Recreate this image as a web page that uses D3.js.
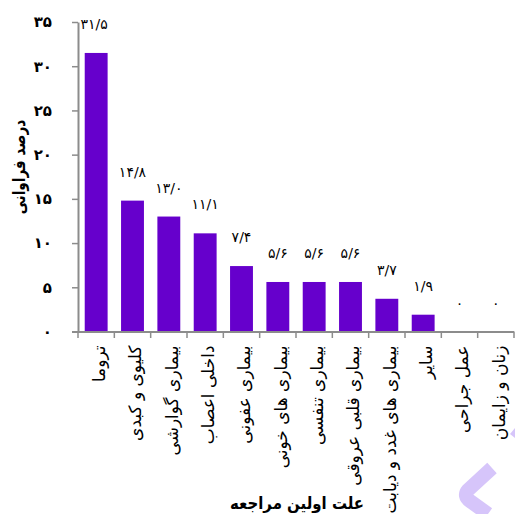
<!DOCTYPE html>
<html>
<head>
<meta charset="utf-8">
<script src="https://cdn.jsdelivr.net/npm/d3@7"></script>
<style>
html,body{margin:0;padding:0;background:#fff;}
svg{display:block;}
text{font-family:"DejaVu Sans","Noto Sans",sans-serif;}
</style>
</head>
<body>
<svg id="chart" width="515" height="514"></svg>
<script>
const categories = ["تروما","کلیوی و کبدی","بیماری گوارشی","داخلی اعصاب","بیماری عفونی","بیماری های خونی","بیماری تنفسی","بیماری قلبی عروقی","بیماری های غدد و دیابت","سایر","عمل جراحی","زنان و زایمان"];
const values = [31.5,14.8,13.0,11.1,7.4,5.6,5.6,5.6,3.7,1.9,0,0];
const valueLabels = ["۳۱/۵","۱۴/۸","۱۳/۰","۱۱/۱","۷/۴","۵/۶","۵/۶","۵/۶","۳/۷","۱/۹","۰","۰"];
const yTicks = [0,5,10,15,20,25,30,35];
const yTickLabels = ["۰","۵","۱۰","۱۵","۲۰","۲۵","۳۰","۳۵"];
const yTitle = "درصد فراوانی";
const xTitle = "علت اولین مراجعه";

const svg = d3.select("#chart");
const mLeft = 78, mRight = 514, mTop = 22, mBottom = 331.5;

const x = d3.scaleBand().domain(categories).range([mLeft, mRight]).paddingInner(0.37).paddingOuter(0.185);
const y = d3.scaleLinear().domain([0,35]).range([mBottom, mTop]);

const axisColor = "#8c8c8c";

// bars
svg.append("g").selectAll("rect").data(values).join("rect")
  .attr("x",(d,i)=>x(categories[i]))
  .attr("width",x.bandwidth())
  .attr("y",d=>y(d))
  .attr("height",d=>mBottom-y(d))
  .attr("fill","#6600cc");

// value labels
svg.append("g").selectAll("text").data(values).join("text")
  .attr("x",(d,i)=>x(categories[i])+x.bandwidth()/2 - (i===0?2:0))
  .attr("y",d=>y(d)-24)
  .attr("text-anchor","middle")
  .attr("font-size",14)
  .attr("fill","#000")
  .text((d,i)=>valueLabels[i]);

// y axis
const yAxis = svg.append("g").attr("transform",`translate(${mLeft},0)`)
  .call(d3.axisLeft(y).tickValues(yTicks).tickSize(6).tickSizeOuter(0).tickPadding(20).tickFormat((d,i)=>yTickLabels[i]));
yAxis.select(".domain").attr("stroke",axisColor).attr("stroke-width",2);
yAxis.selectAll(".tick line").attr("stroke",axisColor).attr("stroke-width",1.5);
yAxis.selectAll(".tick text").attr("font-size",15).attr("font-weight","bold").attr("fill","#000")
  .attr("font-family","DejaVu Sans");

// x axis line and ticks at band boundaries
const step = x.step();
const boundaries = d3.range(categories.length+1).map(i=>mLeft + i*step);
svg.append("line").attr("x1",mLeft-6).attr("x2",mRight).attr("y1",mBottom+0.5).attr("y2",mBottom+0.5)
  .attr("stroke",axisColor).attr("stroke-width",2);
svg.append("g").selectAll("line").data(boundaries).join("line")
  .attr("x1",d=>d).attr("x2",d=>d).attr("y1",mBottom).attr("y2",mBottom+6.5)
  .attr("stroke",axisColor).attr("stroke-width",1.5);

// category labels rotated
svg.append("g").selectAll("text").data(categories).join("text")
  .attr("transform",d=>`translate(${x(d)+x.bandwidth()/2+3},${mBottom+14}) rotate(-90)`)
  .attr("text-anchor","end")
  .attr("dy","0.35em")
  .attr("font-size",17)
  .attr("fill","#000")
  .text(d=>d);

// y title
svg.append("text")
  .attr("transform","translate(19,167) rotate(-90) scale(0.8,1)")
  .attr("text-anchor","middle")
  .attr("dy","0.35em")
  .attr("font-size",17).attr("font-weight","bold")
  .text(yTitle);

// x title
svg.append("text")
  .attr("transform","translate(297,509) scale(0.88,1)")
  .attr("text-anchor","middle")
  .attr("font-size",17).attr("font-weight","bold")
  .text(xTitle);

// watermark logo fragment
svg.append("path")
  .attr("d","M 492 468 L 468 490 Q 463 496 470 501 L 488 514")
  .attr("fill","none").attr("stroke","#d6c5fa").attr("stroke-width",14);
svg.append("path")
  .attr("d","M 515 428 L 510 434 L 515 438 Z")
  .attr("fill","#d6c5fa");
</script>
</body>
</html>
